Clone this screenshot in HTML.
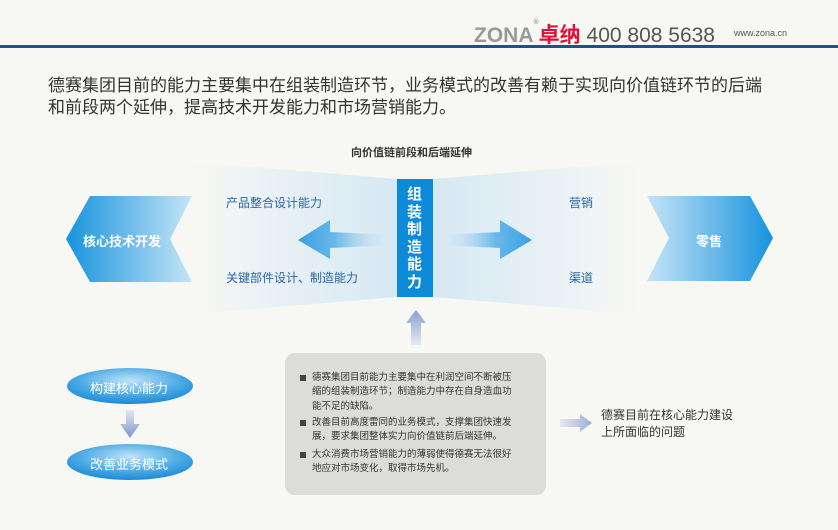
<!DOCTYPE html>
<html><head><meta charset="utf-8"><style>
body{margin:0;width:838px;height:530px;background:#f7f7f3;overflow:hidden;font-family:"Liberation Sans","Noto Sans CJK SC",sans-serif;position:relative}
.a{position:absolute;white-space:nowrap}
</style></head><body>
<svg class="a" style="left:0;top:0" width="838" height="530">
<defs>
<linearGradient id="bl" x1="0" x2="1"><stop offset="0" stop-color="#f7f7f3" stop-opacity="0"/><stop offset="0.3" stop-color="#eef3f5"/><stop offset="1" stop-color="#d6e8f4"/></linearGradient>
<linearGradient id="br" x1="0" x2="1"><stop offset="0" stop-color="#d6e8f4"/><stop offset="0.7" stop-color="#eef3f5"/><stop offset="1" stop-color="#f7f7f3" stop-opacity="0"/></linearGradient>
<linearGradient id="cl" x1="0" x2="1"><stop offset="0" stop-color="#1793de"/><stop offset="1" stop-color="#c5e4f6"/></linearGradient>
<linearGradient id="cr" x1="0" x2="1"><stop offset="0" stop-color="#c5e4f6"/><stop offset="1" stop-color="#1793de"/></linearGradient>
<linearGradient id="al" x1="0" x2="1"><stop offset="0" stop-color="#3a9fe0"/><stop offset="0.4" stop-color="#6ab8ea"/><stop offset="1" stop-color="#d6e8f4" stop-opacity="0"/></linearGradient>
<linearGradient id="ar" x1="0" x2="1"><stop offset="0" stop-color="#d6e8f4" stop-opacity="0"/><stop offset="0.6" stop-color="#6ab8ea"/><stop offset="1" stop-color="#3a9fe0"/></linearGradient>
<linearGradient id="au" x1="0" x2="0" y1="0" y2="1"><stop offset="0" stop-color="#8a9fd0"/><stop offset="1" stop-color="#e4e8f2"/></linearGradient>
<linearGradient id="ad" x1="0" x2="0" y1="0" y2="1"><stop offset="0" stop-color="#e4e8f2"/><stop offset="1" stop-color="#7f95c8"/></linearGradient>
<linearGradient id="as" x1="0" x2="1"><stop offset="0" stop-color="#e4e8f2"/><stop offset="1" stop-color="#9fb0d8"/></linearGradient>
<radialGradient id="el" cx="0.5" cy="0.35" r="0.7"><stop offset="0" stop-color="#bfe3f8"/><stop offset="0.6" stop-color="#47a8e4"/><stop offset="1" stop-color="#1583d6"/></radialGradient>
</defs>
<rect x="0" y="45" width="838" height="3" fill="#1a4f9a"/>
<path d="M180 161 L397 179 L397 297 L180 315 Z" fill="url(#bl)"/>
<path d="M433 179 L650 161 L650 315 L433 297 Z" fill="url(#br)"/>
<path d="M90 196 L192 196 L170 239 L192 282 L90 282 L66 239 Z" fill="url(#cl)"/>
<path d="M647 196 L750 196 L773 238 L750 281 L647 281 L669 238 Z" fill="url(#cr)"/>
<path d="M298 240 L330 220 L330 232 L392 235 L392 245 L330 248 L330 259 Z" fill="url(#al)"/>
<path d="M532 240 L500 220 L500 232 L440 235 L440 245 L500 248 L500 259 Z" fill="url(#ar)"/>
<rect x="397" y="179" width="36" height="118" fill="#0d8ad8"/>
<path d="M416 310 L426 323 L421 323 L421 345 L411 345 L411 323 L406 323 Z" fill="url(#au)"/>
<rect x="285" y="353" width="261" height="142" rx="10" fill="#dcdcdb"/>
<ellipse cx="130" cy="386" rx="63" ry="18" fill="url(#el)"/>
<ellipse cx="130" cy="462" rx="63" ry="18" fill="url(#el)"/>
<path d="M126 410 L134 410 L134 424 L140 424 L130 438 L120 424 L126 424 Z" fill="url(#ad)"/>
<path d="M560 419 L580 419 L580 414 L592 423 L580 432 L580 427 L560 427 Z" fill="url(#as)"/>
<g fill="#444"><rect x="300" y="375" width="6" height="6"/><rect x="300" y="420" width="6" height="6"/><rect x="300" y="452" width="6" height="6"/></g>
</svg>
<div class="a" style="left:474px;top:19px;font-size:21px;color:#999;font-weight:bold">ZONA<span style="font-size:7px;vertical-align:top">®</span><span style="color:#e0103a">卓纳</span> <span style="color:#555;font-weight:normal">400 808 5638</span></div>
<div class="a" style="left:734px;top:28px;font-size:9px;color:#555">www.zona.cn</div>
<div class="a" style="left:48px;top:75px;font-size:17px;color:#333;line-height:22px">德赛集团目前的能力主要集中在组装制造环节，业务模式的改善有赖于实现向价值链环节的后端<br>和前段两个延伸，提高技术开发能力和市场营销能力。</div>
<div class="a" style="left:351px;top:144px;font-size:11px;font-weight:bold;color:#333">向价值链前段和后端延伸</div>
<div class="a" style="left:83px;top:231px;font-size:13px;font-weight:bold;color:#fff">核心技术开发</div>
<div class="a" style="left:696px;top:231px;font-size:13px;font-weight:bold;color:#fff">零售</div>
<div class="a" style="left:407px;top:186px;width:16px;font-size:15px;line-height:17.5px;font-weight:bold;color:#fff;white-space:normal">组装制造能力</div>
<div class="a" style="left:226px;top:194px;font-size:12px;color:#2a66a8">产品整合设计能力</div>
<div class="a" style="left:226px;top:269px;font-size:12px;color:#2a66a8">关键部件设计、制造能力</div>
<div class="a" style="left:569px;top:194px;font-size:12px;color:#2a66a8">营销</div>
<div class="a" style="left:569px;top:269px;font-size:12px;color:#2a66a8">渠道</div>
<div class="a" style="left:90px;top:378px;font-size:13px;color:#fff">构建核心能力</div>
<div class="a" style="left:90px;top:454px;font-size:13px;color:#fff">改善业务模式</div>
<div class="a" style="left:312px;top:371px;font-size:9.5px;line-height:14.3px;color:#333">德赛集团目前能力主要集中在利润空间不断被压<br>缩的组装制造环节；制造能力中存在自身造血功<br>能不足的缺陷。</div>
<div class="a" style="left:312px;top:416px;font-size:9.5px;line-height:14.3px;color:#333">改善目前高度雷同的业务模式，支撑集团快速发<br>展，要求集团整体实力向价值链前后端延伸。</div>
<div class="a" style="left:312px;top:448px;font-size:9.5px;line-height:14.3px;color:#333">大众消费市场营销能力的薄弱使得德赛无法很好<br>地应对市场变化，取得市场先机。</div>
<div class="a" style="left:601px;top:407px;font-size:12px;line-height:17px;color:#333">德赛目前在核心能力建设<br>上所面临的问题</div>
</body></html>
